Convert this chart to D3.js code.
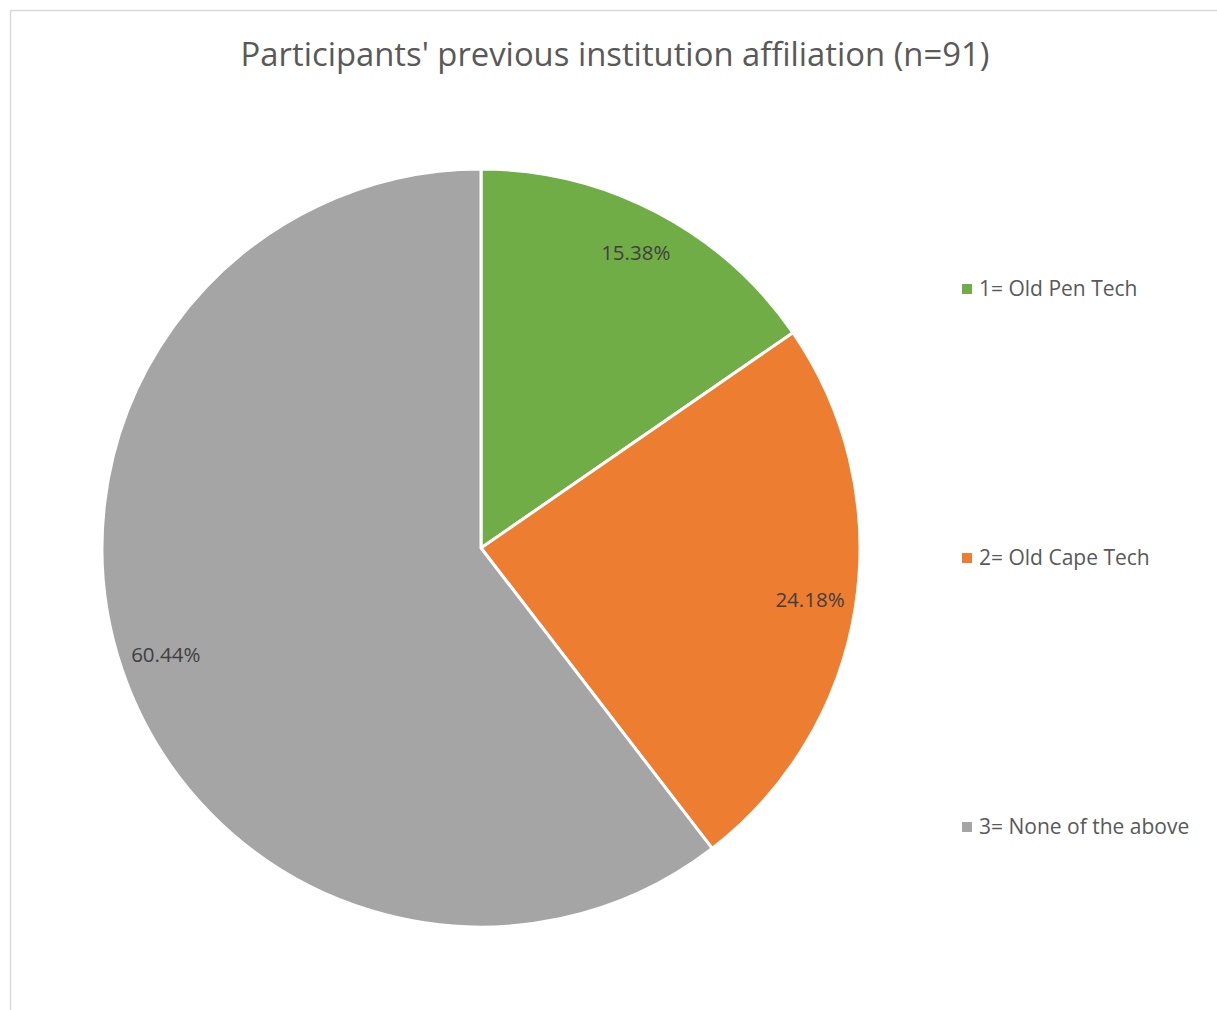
<!DOCTYPE html>
<html><head><meta charset="utf-8">
<script src="https://cdn.jsdelivr.net/npm/d3@7"></script>
<style>body{margin:0;background:#fff}</style>
</head><body>
<script>
const categories = ["1= Old Pen Tech", "2= Old Cape Tech", "3= None of the above"];
const counts = [14, 22, 55];
const labels = ["15.38%", "24.18%", "60.44%"];
const colors = ["#70AD47", "#ED7D31", "#A5A5A5"];
const title = "Participants' previous institution affiliation (n=91)";

const W = 1217, H = 1010;
const svg = d3.select("body").append("svg").attr("width", W).attr("height", H);
svg.append("rect").attr("x", 10.5).attr("y", 10.5).attr("width", W + 20).attr("height", H + 20)
  .attr("fill", "#fff").attr("stroke", "#d9d9d9").attr("stroke-width", 1.5);

const font = "'Open Sans', 'Liberation Sans', sans-serif";
svg.append("text").attr("x", 615).attr("y", 66).attr("text-anchor", "middle")
  .attr("font-family", font).attr("font-size", 32.8).attr("fill", "#595959").text(title);

const cx = 481, cy = 548, R = 379;
const pie = d3.pie().sort(null).value(d => d)(counts);
const arc = d3.arc().innerRadius(0).outerRadius(R);
const g = svg.append("g").attr("transform", `translate(${cx},${cy})`);
g.selectAll("path").data(pie).join("path").attr("d", arc)
  .attr("fill", (d, i) => colors[i]).attr("stroke", "#fff").attr("stroke-width", 3).attr("stroke-linejoin", "round");

const labelArc = d3.arc().innerRadius(333).outerRadius(333);
g.selectAll("text").data(pie).join("text")
  .attr("transform", d => `translate(${labelArc.centroid(d)})`)
  .attr("text-anchor", "middle").attr("dy", "0.35em")
  .attr("font-family", font).attr("font-size", 20.5).attr("fill", "#404040")
  .text((d, i) => labels[i]);

const ly = d3.scalePoint().domain(categories).range([289, 827]);
const lg = svg.append("g");
categories.forEach((c, i) => {
  lg.append("rect").attr("x", 962).attr("y", ly(c) - 5).attr("width", 10).attr("height", 10).attr("fill", colors[i]);
  lg.append("text").attr("x", 979).attr("y", ly(c)).attr("dy", "0.35em")
    .attr("font-family", font).attr("font-size", 21).attr("fill", "#595959").text(c);
});
</script>
</body></html>
